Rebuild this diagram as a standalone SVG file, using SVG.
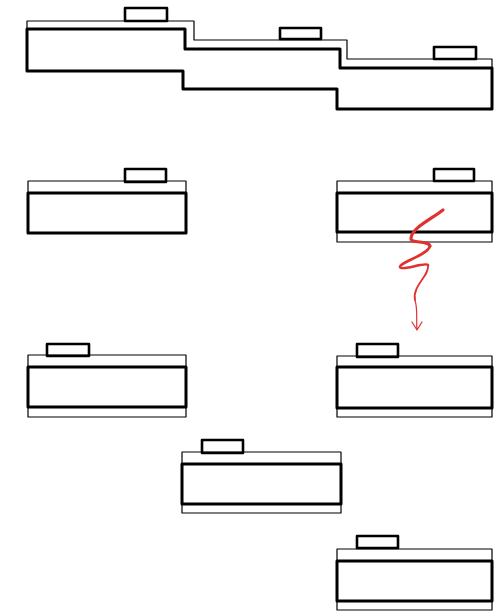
<svg xmlns="http://www.w3.org/2000/svg" width="494" height="613" viewBox="0 0 494 613">
<style>
.thin{fill:none;stroke:#000;stroke-width:1.2;stroke-linejoin:round;stroke-linecap:round}
.thick{fill:none;stroke:#000;stroke-width:3;stroke-linejoin:round;stroke-linecap:round}
.box{fill:none;stroke:#000;stroke-width:2.6;stroke-linejoin:round}
.red{fill:none;stroke:#e03131;stroke-linecap:round;stroke-linejoin:round}
</style>
<rect width="494" height="613" fill="#fff"/>
<g id="top-row">
<path class="thin" d="M27,29 L27,21 L194,21 L194,40 L347,40 L347,59 L492,59 L492,68"/>
<path class="thick" d="M27,29 L185,29 L185,49 L340,49 L340,68 L492,68 L492,109 L337,109 L337,89 L183,89 L183,71 L27,71 Z"/>
<rect class="box" x="125" y="8" width="42" height="13"/>
<rect class="box" x="280" y="28" width="41" height="11"/>
<rect class="box" x="434" y="47" width="42" height="12"/>
</g>
<g id="block-a">
<path class="thin" d="M28,193 L28,181 L186,181 L186,193"/>
<rect class="thick" x="28" y="193" width="158" height="40"/>
<rect class="box" x="125" y="169" width="41" height="13"/>
</g>
<g id="block-b">
<path class="thin" d="M337,193 L337,181 L492,181 L492,193 M337,232 L337,242 L492,242 L492,232"/>
<rect class="thick" x="337" y="193" width="155" height="39"/>
<rect class="box" x="434" y="169" width="40" height="12"/>
</g>
<g id="block-c">
<path class="thin" d="M28,367 L28,355 L186,355 L186,367 M28,407 L28,417 L186,417 L186,407"/>
<rect class="thick" x="28" y="367" width="158" height="40"/>
<rect class="box" x="47" y="344" width="42" height="12"/>
</g>
<g id="block-d">
<path class="thin" d="M337,367 L337,356 L492,356 L492,367 M337,408 L337,417 L492,417 L492,408"/>
<rect class="thick" x="337" y="367" width="155" height="41"/>
<rect class="box" x="357" y="344" width="41" height="13"/>
</g>
<g id="block-e">
<path class="thin" d="M182,464 L182,452 L341,452 L341,464 M182,504 L182,513 L341,513 L341,504"/>
<rect class="thick" x="182" y="464" width="159" height="40"/>
<rect class="box" x="202" y="440" width="41" height="13"/>
</g>
<g id="block-f">
<path class="thin" d="M337,561 L337,549 L492,549 L492,561 M337,601 L337,610 L492,610 L492,601"/>
<rect class="thick" x="337" y="561" width="155" height="40"/>
<rect class="box" x="357" y="536" width="41" height="12"/>
</g>
<g id="connectors">
<path class="red" stroke-width="3.2" d="M443,210 C430,220 412,228 411,238 C410,244 428,240 430,246"/>
<path class="red" stroke-width="2.6" d="M430,246 C428,255 400,262 400,267 C401,271 426,262 428,265"/>
<path class="red" stroke-width="1.8" d="M428,265 C430,275 412,286 415,300"/>
<path class="red" stroke-width="1.2" d="M415,300 C418,310 416,320 417,330 M412,322 L417,330 L422,322"/>
</g>
</svg>
